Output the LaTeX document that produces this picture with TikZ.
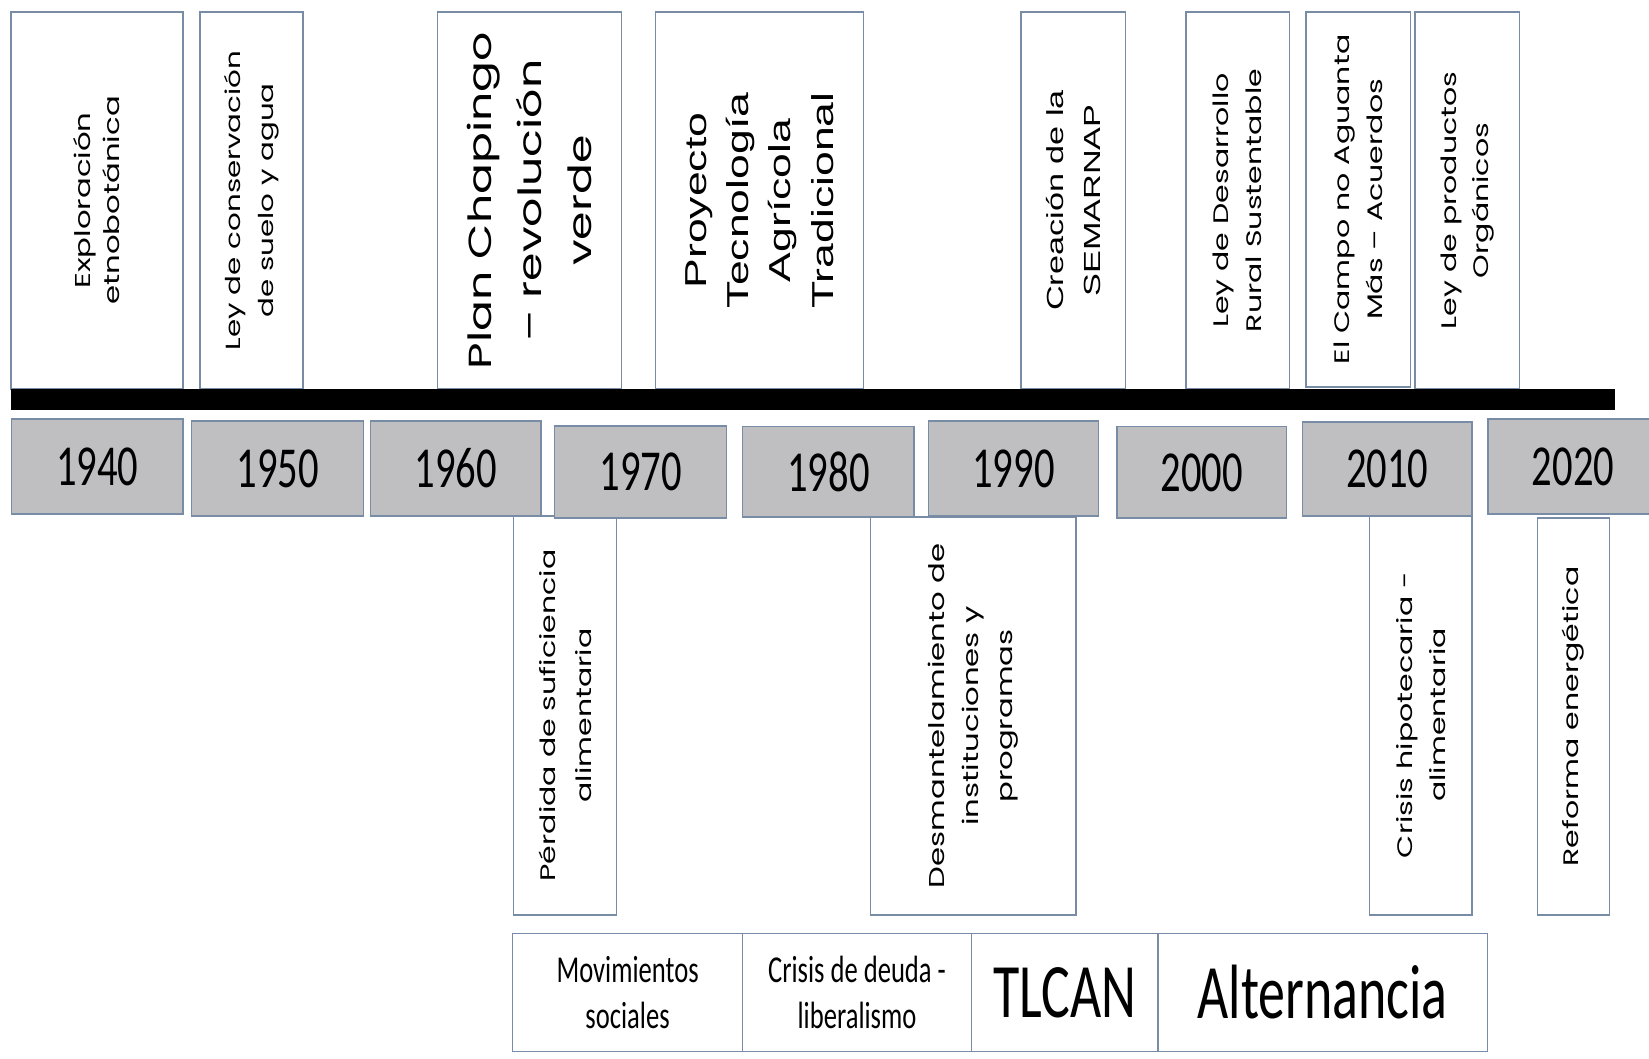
\documentclass[tikz,border=0pt]{standalone}
\usepackage{fontspec}
\newfontfamily\geofont[FakeStretch=1.43]{Poppins}
\newfontfamily\arialfont[FakeStretch=1.47]{Liberation Sans}
\newfontfamily\calfont[FakeStretch=0.7]{Carlito}
\definecolor{boxline}{RGB}{120,140,165}
\definecolor{yeargray}{RGB}{191,191,193}

\begin{document}
\begin{tikzpicture}[x=1pt, y=-1pt,
  event/.style={draw=boxline, line width=1.3pt, fill=white, rotate=90, inner sep=0pt, align=center},
  yearbox/.style={draw=boxline, line width=1.3pt, fill=yeargray, inner sep=0pt, font=\calfont\fontsize{58}{58}\selectfont},
  era/.style={draw=boxline, line width=1.3pt, fill=white, inner sep=0pt, align=center, minimum height=118.4pt}]
  \useasboundingbox (0,0) rectangle (1649,1059);

  % events above the line
  \node[event, minimum width=377pt, minimum height=172pt, font=\geofont\fontsize{21.5}{29}\selectfont] (explo) at (97,200.5) {Exploración\\etnobotánica};
  \node[event, minimum width=377pt, minimum height=103pt, font=\geofont\fontsize{20.5}{33}\selectfont] (suelo) at (251.5,200.5) {Ley de conservación\\de suelo y agua};
  \node[event, minimum width=377pt, minimum height=184pt, font=\geofont\fontsize{32}{50}\selectfont] (chapingo) at (529.6,200.5) {Plan Chapingo\\– revolución\\verde};
  \node[event, minimum width=377pt, minimum height=207.6pt, font=\arialfont\fontsize{30.3}{42.3}\selectfont] (proyecto) at (759.5,200.5) {Proyecto\\Tecnología\\Agrícola\\Tradicional};
  \node[event, minimum width=377pt, minimum height=104.3pt, font=\arialfont\fontsize{23.3}{36.7}\selectfont] (semarnap) at (1073.2,200.5) {Creación de la\\SEMARNAP};
  \node[event, minimum width=377pt, minimum height=103.3pt, font=\geofont\fontsize{21}{33}\selectfont] (rural) at (1237.7,200.5) {Ley de Desarrollo\\Rural Sustentable};
  \node[event, minimum width=375pt, minimum height=104.7pt, font=\geofont\fontsize{21}{33}\selectfont] (campo) at (1358.4,199.5) {El Campo no Aguanta\\Más – Acuerdos};
  \node[event, minimum width=377pt, minimum height=104.3pt, font=\geofont\fontsize{21}{32}\selectfont] (organicos) at (1467.2,200.5) {Ley de productos\\Orgánicos};

  % time line
  \fill (11,389) rectangle (1615,410);

  % events below the line
  \node[event, minimum width=399pt, minimum height=102.8pt, font=\geofont\fontsize{21}{36}\selectfont] (perdida) at (565.1,715.5) {Pérdida de suficiencia\\alimentaria};
  \node[event, minimum width=398pt, minimum height=205.2pt, font=\geofont\fontsize{21.5}{34}\selectfont] (desmant) at (973.4,716) {Desmantelamiento de\\instituciones y\\programas};
  \node[event, minimum width=400pt, minimum height=102.4pt, font=\geofont\fontsize{21}{33}\selectfont] (hipoteca) at (1420.8,715) {Crisis hipotecaria -\\alimentaria};
  \node[event, minimum width=397pt, minimum height=71.8pt, font=\geofont\fontsize{21}{26}\selectfont] (reforma) at (1573.6,716.5) {Reforma energética};

  % decades
  \node[yearbox, minimum width=171.4pt, minimum height=95pt] (y1940) at (97.3,466.5) {1940};
  \node[yearbox, minimum width=172pt, minimum height=95pt] (y1950) at (277.7,468.5) {1950};
  \node[yearbox, minimum width=170.4pt, minimum height=95pt] (y1960) at (455.8,468.5) {1960};
  \node[yearbox, minimum width=172pt, minimum height=92pt] (y1970) at (640.8,472) {1970};
  \node[yearbox, minimum width=171.3pt, minimum height=90.3pt] (y1980) at (828.4,471.9) {1980};
  \node[yearbox, minimum width=170.3pt, minimum height=95pt] (y1990) at (1013.5,468.5) {1990};
  \node[yearbox, minimum width=169.4pt, minimum height=91.3pt] (y2000) at (1201.7,472.4) {2000};
  \node[yearbox, minimum width=169.7pt, minimum height=94pt] (y2010) at (1387.2,469) {2010};
  \node[yearbox, minimum width=170pt, minimum height=95pt] (y2020) at (1573,466.5) {2020};

  % periods
  \node[era, minimum width=229.6pt, font=\calfont\fontsize{38}{46}\selectfont] (movim) at (627.6,992.5) {Movimientos\\sociales};
  \node[era, minimum width=229.1pt, font=\calfont\fontsize{38}{46}\selectfont] (deuda) at (857,992.5) {Crisis de deuda -\\liberalismo};
  \node[era, minimum width=186.5pt, font=\calfont\fontsize{77}{77}\selectfont] (tlcan) at (1064.8,992.5) {TLCAN};
  \node[era, minimum width=329.4pt, font=\calfont\fontsize{77}{77}\selectfont] (alter) at (1322.7,992.5) {Alternancia};
\end{tikzpicture}
\end{document}
